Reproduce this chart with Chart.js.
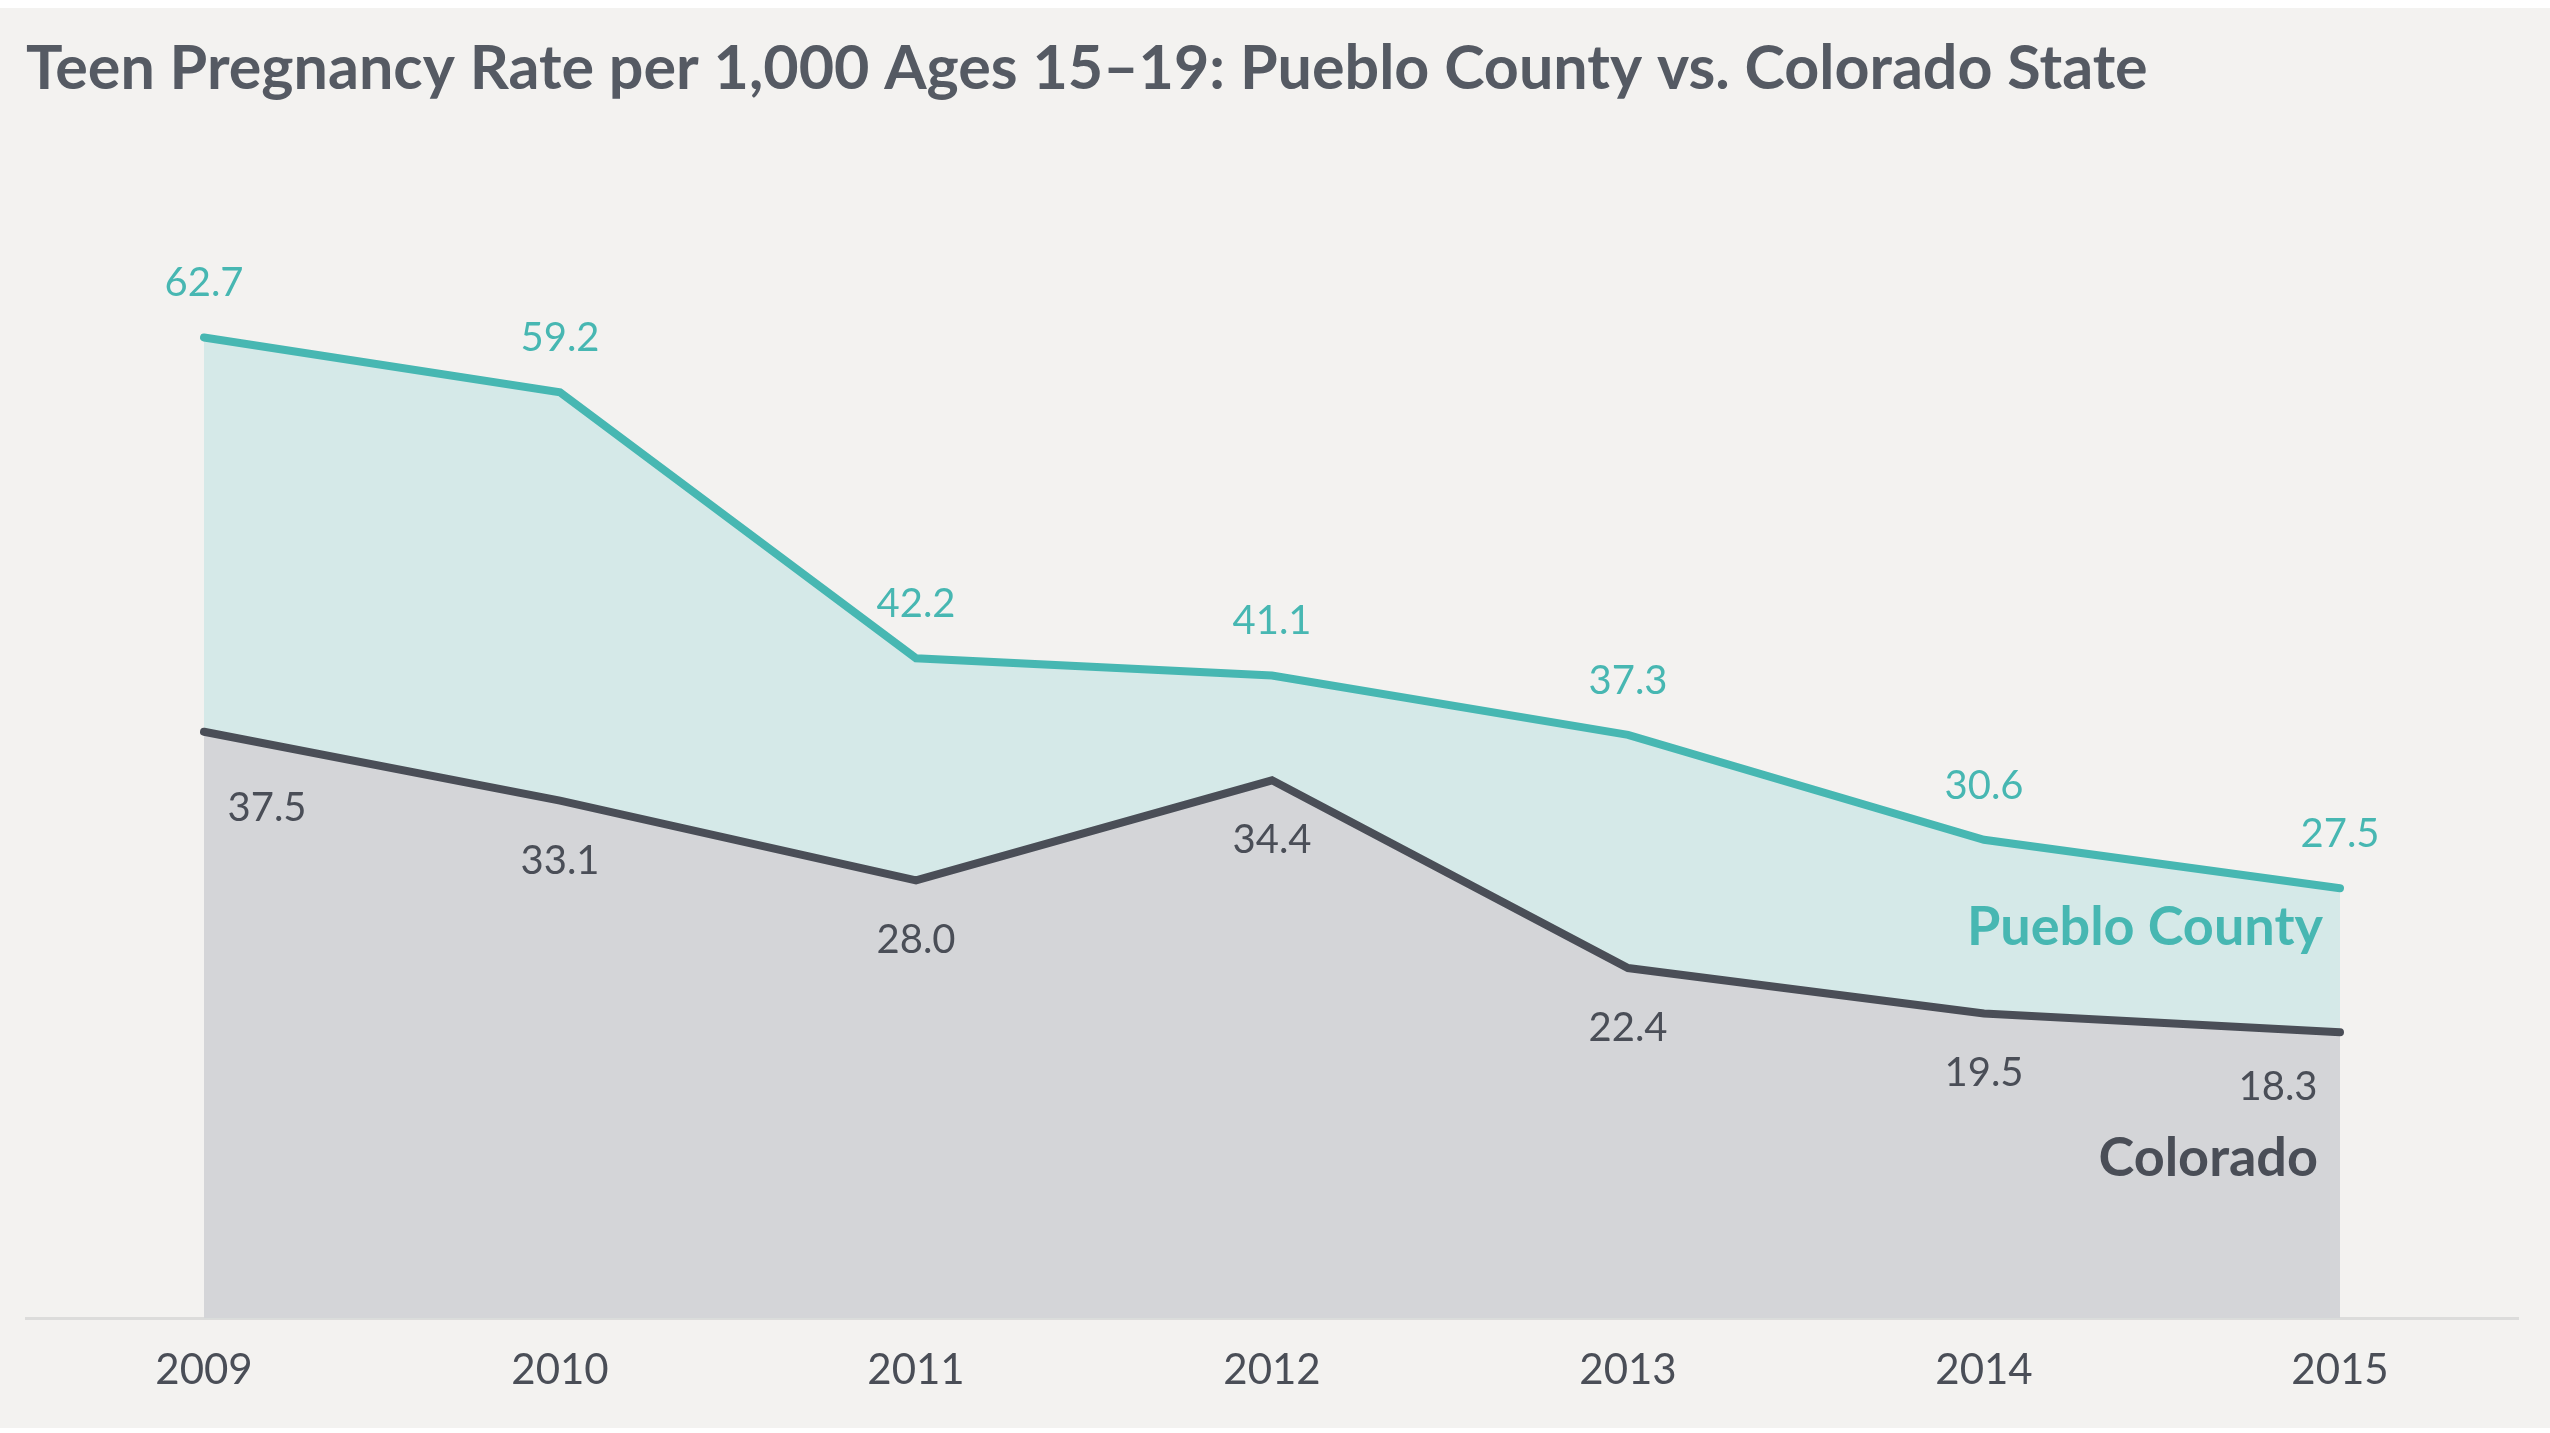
<!DOCTYPE html>
<html>
<head>
<meta charset="utf-8">
<script src="https://cdn.jsdelivr.net/npm/chart.js@4.4.1/dist/chart.umd.min.js"></script>
<style>
  html, body { margin: 0; padding: 0; background: #ffffff; }
  #frame { position: absolute; left: 0; top: 8px; width: 2550px; height: 1420px; background: #f3f2f0; }
</style>
</head>
<body>
<div id="frame"><canvas id="chart"></canvas></div>
<script>
// Teen pregnancy rate per 1,000 girls aged 15-19
const years = ['2009', '2010', '2011', '2012', '2013', '2014', '2015'];
const puebloRates = [62.7, 59.2, 42.2, 41.1, 37.3, 30.6, 27.5];
const coloradoRates = [37.5, 33.1, 28.0, 34.4, 22.4, 19.5, 18.3];
const seriesNames = ['Colorado', 'Pueblo County'];
const titleText = 'Teen Pregnancy Rate per 1,000 Ages 15\u201319: Pueblo County vs. Colorado State';

const TEAL = '#47b7b2';
const TEAL_FILL = '#d5e9e8';
const SLATE = '#4a4e57';
const SLATE_FILL = '#d4d5d8';
const FONT = 'Lato, "Open Sans", sans-serif';

// Value labels next to each point; Colorado sits under its line,
// with the first and last labels pulled inwards so they stay in the fill
const pointLabels = {
  id: 'pointLabels',
  afterDatasetsDraw(chart) {
    const { ctx } = chart;
    ctx.save();
    ctx.font = `40px ${FONT}`;
    ctx.textAlign = 'center';
    ctx.textBaseline = 'middle';
    chart.data.datasets.forEach((ds, i) => {
      const meta = chart.getDatasetMeta(i);
      const below = i === 0;
      ctx.fillStyle = ds.borderColor;
      meta.data.forEach((pt, j) => {
        let dx = 0;
        let dy = below ? 60 : -54;
        if (below && j === 0) { dx = 63; dy = 76; }
        if (below && j === meta.data.length - 1) { dx = -62; dy = 55; }
        ctx.fillText(ds.data[j].toFixed(1), pt.x + dx, pt.y + dy);
      });
    });
    ctx.restore();
  },
};

// Series names written inside their areas, right aligned near the last point
const seriesTags = {
  id: 'seriesTags',
  afterDatasetsDraw(chart) {
    const { ctx } = chart;
    const yScale = chart.scales.y;
    const anchors = [10.2, 25.0];
    const insets = [22, 17];
    ctx.save();
    ctx.font = `bold 54px ${FONT}`;
    ctx.textAlign = 'right';
    ctx.textBaseline = 'middle';
    chart.data.datasets.forEach((ds, i) => {
      const meta = chart.getDatasetMeta(i);
      const last = meta.data[meta.data.length - 1];
      ctx.fillStyle = ds.borderColor;
      ctx.fillText(ds.label, last.x - insets[i], yScale.getPixelForValue(anchors[i]));
    });
    ctx.restore();
  },
};

new Chart(document.getElementById('chart'), {
  type: 'line',
  data: {
    labels: years,
    datasets: [
      {
        label: seriesNames[0],
        data: coloradoRates,
        borderColor: SLATE,
        backgroundColor: SLATE_FILL,
        fill: 'origin',
      },
      {
        label: seriesNames[1],
        data: puebloRates,
        borderColor: TEAL,
        backgroundColor: TEAL_FILL,
        fill: 'origin',
      },
    ],
  },
  options: {
    responsive: true,
    maintainAspectRatio: false,
    animation: false,
    events: [],
    layout: { padding: { left: 26, right: 32, top: 0, bottom: 5 } },
    elements: {
      line: { borderWidth: 8, tension: 0, borderCapStyle: 'round', borderJoinStyle: 'miter' },
      point: { radius: 0, hoverRadius: 0 },
    },
    scales: {
      x: {
        offset: true,
        grid: { display: false, drawTicks: false },
        border: { display: true, color: '#dcdcdb', width: 3 },
        ticks: { color: SLATE, padding: 27, font: { family: FONT, size: 42 } },
      },
      y: {
        display: false,
        min: 0,
        max: 70,
      },
    },
    plugins: {
      legend: { display: false },
      tooltip: { enabled: false },
      title: {
        display: true,
        text: titleText,
        align: 'start',
        color: '#555a63',
        font: { family: FONT, size: 61, weight: 'bold', lineHeight: 1.2 },
        padding: { top: 25, bottom: 117 },
      },
    },
  },
  plugins: [pointLabels, seriesTags],
});
</script>
</body>
</html>
